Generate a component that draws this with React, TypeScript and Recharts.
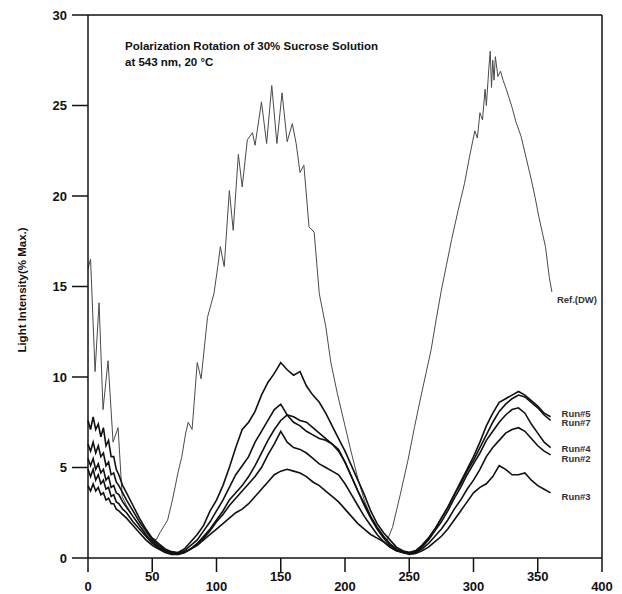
import { LineChart, Line, XAxis, YAxis, ReferenceLine } from "recharts";

// angle (x) samples shared by the five sample runs
const runX = [
  0, 2, 4, 6, 8, 10, 12, 14, 16, 18, 20, 22, 24, 27,
  30, 35, 40, 45, 50, 55, 60, 65, 70, 75, 80, 85, 90, 95, 100,
  105, 110, 115, 120, 125, 130, 135, 140, 145, 150, 155, 160, 165, 170, 175, 180, 185, 190, 195, 200,
  205, 210, 215, 220, 225, 230, 235, 240, 245, 250, 255, 260, 265, 270, 275, 280, 285, 290, 295, 300,
  305, 310, 315, 320, 325, 330, 335, 340, 345, 350, 355, 360,
];

const run5 = [
  7.6, 7.1, 7.8, 7.1, 7.4, 6.7, 7.2, 6.2, 6.5, 5.6, 5.6, 4.9, 4.6, 4.0,
  3.6, 2.9, 2.2, 1.6, 1.1, 0.8, 0.5, 0.35, 0.3, 0.5, 0.9, 1.3, 1.8, 2.6, 3.2,
  4.0, 5.0, 6.1, 7.1, 7.5, 8.1, 9.0, 9.7, 10.2, 10.8, 10.4, 10.1, 10.3, 9.5, 9.0, 8.6, 8.0, 7.3, 6.6, 5.9,
  5.1, 4.3, 3.5, 2.6, 1.9, 1.4, 1.0, 0.6, 0.4, 0.3, 0.4, 0.7, 1.1, 1.6, 2.2, 2.8, 3.5, 4.2, 4.9, 5.6,
  6.4, 7.3, 8.0, 8.6, 8.8, 9.0, 9.2, 9.0, 8.7, 8.4, 8.0, 7.8,
];

const run7 = [
  6.3, 5.9, 6.4, 5.8, 6.2, 5.6, 5.8, 5.1, 5.3, 4.6, 4.7, 4.2, 4.0, 3.6,
  3.2, 2.6, 2.0, 1.5, 1.0, 0.7, 0.45, 0.3, 0.25, 0.4, 0.7, 1.0, 1.5, 2.0, 2.6,
  3.2, 3.9, 4.6, 5.1, 5.6, 6.4, 7.0, 7.6, 8.2, 8.5, 7.9, 7.5, 7.3, 7.0, 6.8, 6.6, 6.5, 6.3, 6.0, 5.3,
  4.5, 3.7, 3.0, 2.3, 1.7, 1.2, 0.8, 0.5, 0.35, 0.3, 0.4, 0.7, 1.1, 1.6, 2.2, 2.8, 3.5, 4.1, 4.8, 5.4,
  6.1, 6.8, 7.5, 8.1, 8.5, 8.8, 9.0, 8.9, 8.6, 8.3, 7.9, 7.6,
];

const run4 = [
  5.5, 5.1, 5.5, 4.9, 5.2, 4.7, 4.9, 4.3, 4.5, 3.9, 4.0, 3.6, 3.5, 3.1,
  2.8, 2.3, 1.8, 1.3, 0.9, 0.6, 0.4, 0.3, 0.25, 0.3, 0.5, 0.8, 1.2, 1.6, 2.1,
  2.6, 3.2, 3.6, 4.0, 4.5, 5.1, 5.8, 6.5, 7.1, 7.6, 7.9, 7.8, 7.6, 7.5, 7.2, 6.9, 6.6, 6.3, 5.9, 5.3,
  4.5, 3.7, 2.9, 2.2, 1.6, 1.1, 0.7, 0.45, 0.3, 0.25, 0.35, 0.6, 1.0, 1.5, 2.0, 2.6, 3.3, 3.9, 4.6, 5.2,
  5.8, 6.5, 7.0, 7.5, 7.9, 8.2, 8.3, 8.0, 7.4, 6.9, 6.4, 6.1,
];

const run2 = [
  4.9, 4.5, 4.9, 4.3, 4.6, 4.1, 4.3, 3.8, 3.9, 3.4, 3.5, 3.1, 3.0, 2.7,
  2.5, 2.0, 1.6, 1.2, 0.8, 0.55, 0.35, 0.25, 0.2, 0.3, 0.5, 0.8, 1.1, 1.5, 2.0,
  2.4, 2.9, 3.3, 3.7, 4.1, 4.5, 5.0, 5.7, 6.3, 7.0, 6.4, 6.1, 6.0, 5.8, 5.5, 5.2, 5.0, 4.8, 4.6, 4.1,
  3.5, 2.9, 2.3, 1.8, 1.3, 0.9, 0.6, 0.4, 0.3, 0.25, 0.3, 0.5, 0.8, 1.2, 1.6, 2.1, 2.7, 3.2, 3.8, 4.3,
  4.9, 5.6, 6.1, 6.5, 6.9, 7.1, 7.2, 7.0, 6.6, 6.2, 5.9, 5.7,
];

const run3 = [
  4.0, 3.7, 4.1, 3.7, 3.9, 3.5, 3.6, 3.2, 3.3, 3.0, 3.0, 2.7, 2.6, 2.4,
  2.2, 1.8, 1.4, 1.0, 0.7, 0.5, 0.3, 0.2, 0.2, 0.3, 0.5, 0.7, 1.0, 1.3, 1.6,
  1.9, 2.2, 2.5, 2.7, 3.0, 3.4, 3.8, 4.2, 4.6, 4.8, 4.9, 4.8, 4.7, 4.5, 4.2, 4.0, 3.7, 3.4, 3.1, 2.7,
  2.3, 1.9, 1.6, 1.3, 1.1, 0.9, 0.6, 0.4, 0.3, 0.2, 0.25, 0.4, 0.6, 0.9, 1.2, 1.6, 2.1, 2.6, 3.1, 3.6,
  3.9, 4.1, 4.5, 5.1, 4.9, 4.6, 4.6, 4.7, 4.3, 4.0, 3.8, 3.6,
];

// reference (distilled water) trace, sampled unevenly to keep its ripples
const refX = [
  0, 2, 5.5, 8.6, 11.7, 15.6, 19.5, 23.4, 26.6, 30, 35, 40, 45, 50, 53, 56, 62, 66, 70, 73,
  76, 78, 81, 85, 88, 93, 98, 101, 103, 106, 110, 113, 117, 120, 124, 128, 130, 135, 139, 143,
  147, 151, 155, 159, 162, 165, 168, 172, 176, 180, 185, 189, 194, 200, 205, 210, 215, 220, 225, 230,
  233, 237, 243, 249, 254, 259, 263, 267, 271, 275, 279, 283, 288, 293, 297, 301, 303, 305, 307, 309,
  310, 312, 313, 314, 315, 316, 317, 319, 321, 323, 326, 330, 333, 337, 341, 345, 348, 351, 356, 359, 361,
];
const refY = [
  16.0, 16.5, 10.3, 14.1, 8.2, 10.9, 6.4, 7.2, 3.4, 2.9, 2.3, 1.8, 1.4, 1.1, 1.0, 1.4, 2.1, 3.3, 4.7, 5.6,
  6.9, 7.5, 7.1, 10.8, 9.9, 13.3, 14.6, 16.1, 17.2, 16.1, 20.3, 18.1, 22.3, 20.5, 23.1, 23.5, 22.8, 25.2, 22.9, 26.1,
  22.9, 25.7, 23.0, 24.0, 22.9, 21.3, 21.7, 18.3, 18.0, 14.6, 12.8, 10.8, 9.1, 7.3, 5.8, 4.4, 3.2, 2.3, 1.6, 1.1,
  1.0, 1.7, 3.5, 5.4, 7.2, 8.9, 10.2, 11.5, 13.2, 14.8, 16.2, 17.6, 19.2, 20.7, 22.2, 23.6, 23.2, 24.6, 24.2, 25.9,
  25.0, 27.1, 28.0, 26.0, 27.5, 26.4, 27.7, 26.6, 26.9, 26.4, 25.8, 24.9, 24.1, 23.3, 22.1, 20.9, 19.9, 18.8, 17.2, 15.5, 14.7,
];

const xTicks = [0, 50, 100, 150, 200, 250, 300, 350, 400];
const yTicks = [0, 5, 10, 15, 20, 25, 30];

const toPoints = (xs: number[], ys: number[]) => xs.map((x, i) => ({ x, y: ys[i] }));

const series = [
  { name: "Ref.(DW)", data: toPoints(refX, refY), color: "#4a4a4a", width: 1, dx: 5, dy: 11 },
  { name: "Run#5", data: toPoints(runX, run5), color: "#111", width: 1.6, dx: 11, dy: 0 },
  { name: "Run#7", data: toPoints(runX, run7), color: "#111", width: 1.6, dx: 11, dy: 6 },
  { name: "Run#4", data: toPoints(runX, run4), color: "#111", width: 1.6, dx: 11, dy: 4 },
  { name: "Run#2", data: toPoints(runX, run2), color: "#111", width: 1.6, dx: 11, dy: 7 },
  { name: "Run#3", data: toPoints(runX, run3), color: "#111", width: 1.6, dx: 11, dy: 7 },
];

const font = "'Liberation Sans', Arial, sans-serif";

function XTick(props: any) {
  const { x, y, payload } = props;
  const upper = payload.value % 100 !== 0;
  return (
    <text x={x} y={y + (upper ? 7 : 17)} textAnchor="middle" fontSize={13} fontWeight="bold" fill="#111" fontFamily={font}>
      {payload.value}
    </text>
  );
}

function endLabel(name: string, n: number, dx: number, dy: number) {
  return (props: any) => {
    if (props.index !== n - 1) return null;
    return (
      <text x={props.x + dx} y={props.y + dy} fontSize={9.5} fontWeight="bold" fill="#333" fontFamily={font}>
        {name}
      </text>
    );
  };
}

export default function App() {
  return (
    <div style={{ position: "absolute", left: 0, top: 0, width: 622, height: 594, background: "#fff", fontFamily: font }}>
      <LineChart width={622} height={594} margin={{ top: 15, right: 20, bottom: 0, left: 0 }}>
        <XAxis
          type="number"
          dataKey="x"
          domain={[0, 400]}
          ticks={xTicks}
          tickSize={14}
          height={36}
          interval={0}
          stroke="#111"
          strokeWidth={1.5}
          tick={<XTick />}
        />
        <YAxis
          type="number"
          dataKey="y"
          domain={[0, 30]}
          ticks={yTicks}
          width={88}
          tickSize={16}
          tickMargin={5}
          stroke="#111"
          strokeWidth={1.5}
          tick={{ fontSize: 13, fontWeight: "bold", fill: "#111", fontFamily: font }}
        />
        <ReferenceLine y={30} stroke="#111" strokeWidth={1.5} />
        <ReferenceLine x={400} stroke="#111" strokeWidth={1.5} />
        {series.map((s) => (
          <Line
            key={s.name}
            data={s.data}
            dataKey="y"
            type="linear"
            stroke={s.color}
            strokeWidth={s.width}
            dot={false}
            isAnimationActive={false}
            label={endLabel(s.name, s.data.length, s.dx, s.dy)}
          />
        ))}
      </LineChart>
      <div style={{ position: "absolute", left: 125, top: 38, fontSize: 11.5, fontWeight: "bold", lineHeight: "16px", color: "#111" }}>
        Polarization Rotation of 30% Sucrose Solution
        <br />
        at 543 nm, 20 °C
      </div>
      <div
        style={{
          position: "absolute",
          left: 22,
          top: 290,
          transform: "translate(-50%, -50%) rotate(-90deg)",
          whiteSpace: "nowrap",
          fontSize: 11.5,
          fontWeight: "bold",
          color: "#111",
        }}
      >
        Light Intensity(% Max.)
      </div>
    </div>
  );
}
